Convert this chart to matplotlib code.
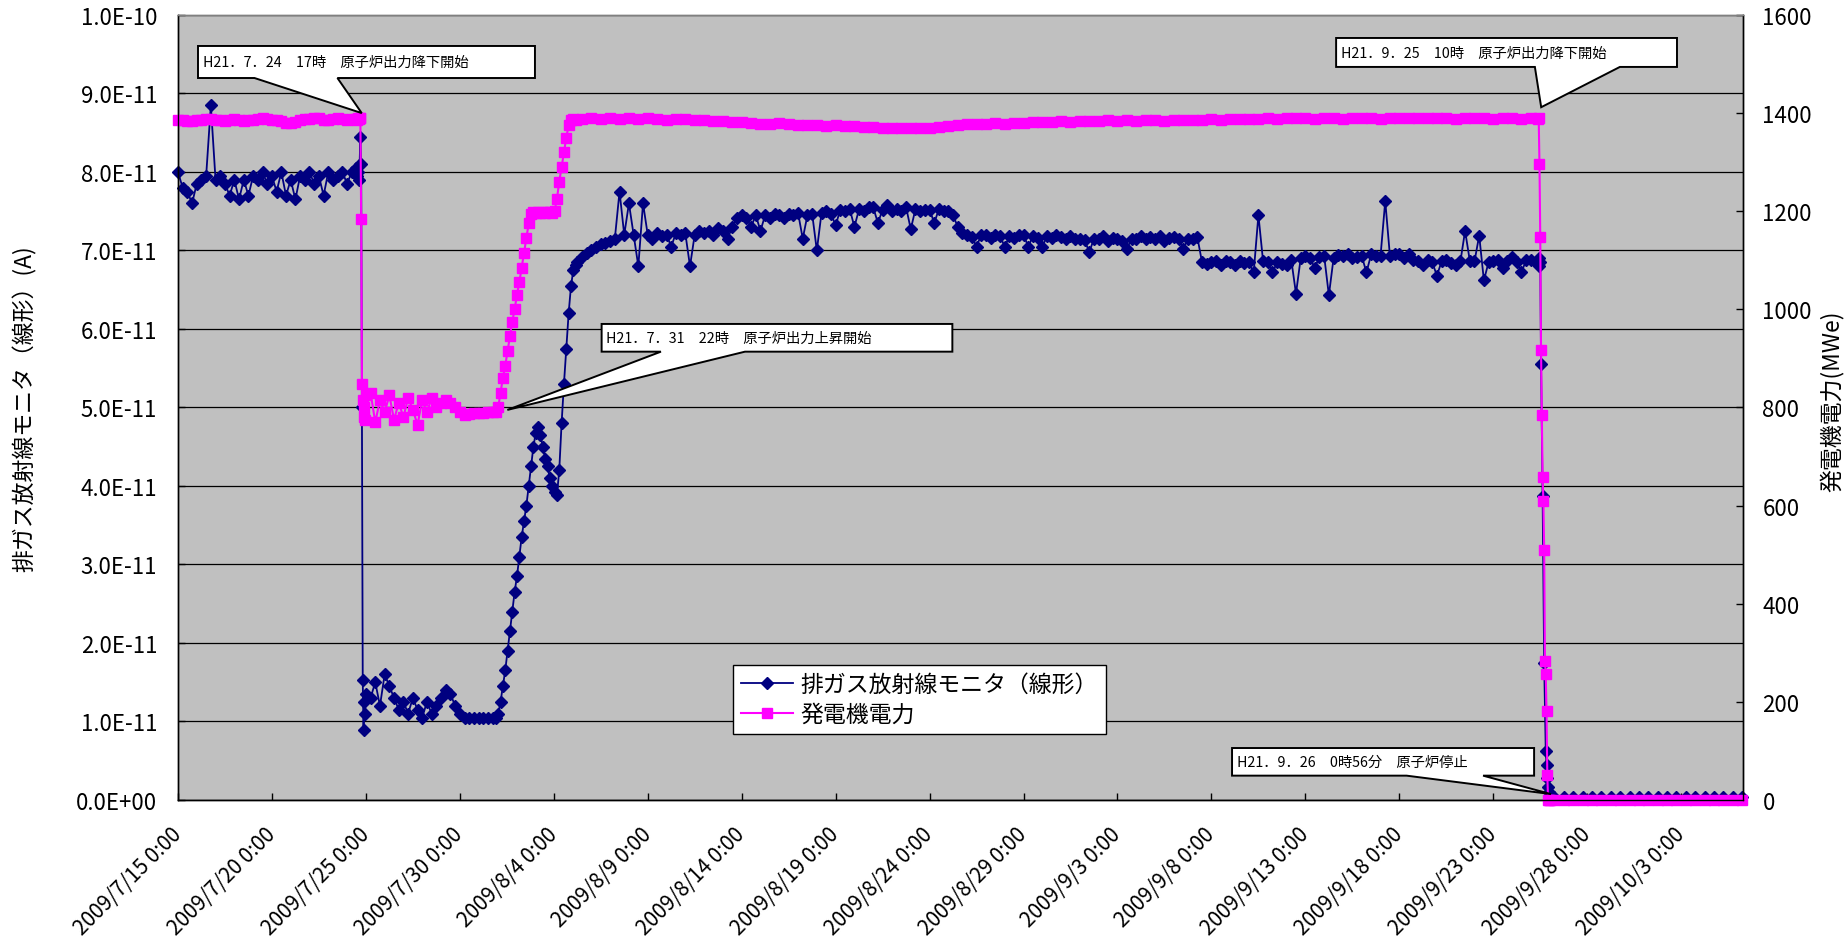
import numpy as np
import pandas as pd
import matplotlib
matplotlib.use("Agg")
import matplotlib.pyplot as plt
import matplotlib.dates as mdates
from matplotlib.patches import Polygon
from matplotlib.ticker import FuncFormatter, MultipleLocator, FixedLocator

plt.rcParams['font.family'] = ['Noto Sans CJK JP', 'DejaVu Sans']

START = pd.Timestamp('2009-07-15 00:00')

# gas = 排ガス放射線モニタ [x1e-11 A], mwe = 発電機電力 [MWe]
# full power until 7/24, every 6 h from 7/15 0:00
full1_start, full1_step = 0, 6
full1_gas = [8.0, 7.8, 7.75, 7.6, 7.85, 7.9, 7.95, 8.85, 7.9, 7.95,
             7.85, 7.7, 7.9, 7.65, 7.9, 7.7, 7.95, 7.9, 8.0, 7.85,
             7.95, 7.75, 8.0, 7.7, 7.9, 7.65, 7.95, 7.9, 8.0, 7.85,
             7.95, 7.7, 8.0, 7.9, 7.95, 8.0, 7.85, 8.0, 8.05]
full1_mwe = [1386, 1385, 1384, 1383, 1385, 1386, 1387, 1388, 1386, 1385,
             1384, 1386, 1387, 1385, 1384, 1386, 1385, 1388, 1390, 1387,
             1386, 1385, 1383, 1380, 1379, 1382, 1385, 1387, 1388, 1390,
             1389, 1386, 1385, 1387, 1389, 1388, 1386, 1387, 1388]

# power reduction 7/24 17:00, hourly
down1_hours = [229, 230, 231, 232, 233, 234, 235, 236, 237, 238, 239, 240]
down1_gas = [7.95, 8.0, 7.9, 8.1, 8.45, 8.1, 5.0, 1.53, 0.89, 1.25, 1.1, 1.35]
down1_mwe = [1386, 1389, 1387, 1390, 1390, 1185, 848, 815, 780, 800, 775, 825]

# reduced power 7/25 - 7/31, every 6 h
low_start, low_step = 246, 6
low_gas = [1.3, 1.5, 1.2, 1.6, 1.45, 1.3, 1.15, 1.25, 1.1, 1.3,
           1.15, 1.05, 1.25, 1.1, 1.2, 1.3, 1.4, 1.35, 1.2, 1.1,
           1.05, 1.05, 1.05, 1.05, 1.05, 1.05, 1.05]
low_mwe = [830, 770, 815, 790, 825, 775, 810, 780, 820, 795,
           765, 815, 790, 820, 800, 810, 815, 810, 800, 790,
           785, 787, 788, 788, 789, 790, 790]

# power ascension from 7/31 22:00, every 3 h
up_start, up_step = 406, 3
up_gas = [1.05, 1.1, 1.25, 1.45, 1.65, 1.9, 2.15, 2.4, 2.65, 2.85,
          3.1, 3.35, 3.55, 3.75, 4.0, 4.25, 4.5, 4.68, 4.75, 4.65,
          4.5, 4.35, 4.25, 4.1, 4.0, 3.92, 3.88, 4.2, 4.8, 5.3,
          5.75, 6.2, 6.55, 6.75, 6.82]
up_mwe = [790, 800, 830, 860, 885, 915, 945, 975, 1000, 1030,
          1055, 1085, 1115, 1145, 1175, 1195, 1198, 1196, 1199, 1197,
          1198, 1196, 1198, 1199, 1197, 1200, 1225, 1260, 1290, 1320,
          1350, 1375, 1385, 1388, 1386]

# full power 8/5 - 9/25: monitor every 6 h, output every 12 h
full2_gas_start, full2_gas_step = 510, 6
full2_gas = [6.85, 6.92, 6.97,
             7.0, 7.05, 7.08, 7.1, 7.12, 7.15, 7.75, 7.2,
             7.6, 7.2, 6.8, 7.6, 7.2, 7.15, 7.22, 7.18,
             7.2, 7.05, 7.22, 7.2, 7.22, 6.8, 7.2, 7.25,
             7.22, 7.25, 7.2, 7.28, 7.25, 7.15, 7.3, 7.42,
             7.45, 7.42, 7.3, 7.45, 7.25, 7.45, 7.42, 7.47,
             7.45, 7.42, 7.47, 7.45, 7.48, 7.15, 7.45, 7.47,
             7.0, 7.48, 7.5, 7.47, 7.32, 7.52, 7.5, 7.53,
             7.3, 7.53, 7.5, 7.55, 7.55, 7.35, 7.52, 7.58,
             7.5, 7.53, 7.5, 7.55, 7.27, 7.53, 7.5, 7.52,
             7.52, 7.35, 7.53, 7.5, 7.5, 7.45, 7.3, 7.22,
             7.2, 7.17, 7.05, 7.2, 7.2, 7.16, 7.2, 7.18,
             7.05, 7.18, 7.16, 7.2, 7.2, 7.05, 7.18, 7.16,
             7.05, 7.18, 7.16, 7.2, 7.17, 7.15, 7.18, 7.14,
             7.15, 7.13, 6.98, 7.15, 7.15, 7.18, 7.12, 7.16,
             7.15, 7.12, 7.02, 7.15, 7.15, 7.18, 7.15, 7.17,
             7.15, 7.18, 7.12, 7.16, 7.17, 7.15, 7.02, 7.15,
             7.15, 7.17, 6.85, 6.83, 6.85, 6.87, 6.82, 6.86,
             6.85, 6.82, 6.87, 6.84, 6.85, 6.72, 7.45, 6.86,
             6.85, 6.72, 6.85, 6.83, 6.82, 6.88, 6.45, 6.9,
             6.93, 6.9, 6.78, 6.92, 6.93, 6.43, 6.9, 6.94,
             6.93, 6.95, 6.9, 6.92, 6.93, 6.72, 6.95, 6.93,
             6.93, 7.63, 6.93, 6.95, 6.95, 6.9, 6.95, 6.88,
             6.87, 6.82, 6.88, 6.85, 6.68, 6.86, 6.88, 6.84,
             6.82, 6.86, 7.25, 6.87, 6.86, 7.19, 6.62, 6.85,
             6.86, 6.88, 6.78, 6.87, 6.92, 6.85, 6.72, 6.88,
             6.88, 6.85]
full2_mwe_start, full2_mwe_step = 516, 12
full2_mwe = [1388, 1390, 1387, 1389, 1388, 1390, 1387, 1389, 1388, 1386,
             1388, 1387, 1385, 1386, 1384, 1383, 1382, 1382, 1380, 1378,
             1377, 1379, 1378, 1376, 1375, 1376, 1374, 1375, 1374, 1373,
             1372, 1371, 1370, 1370, 1369, 1369, 1370, 1370, 1372, 1374,
             1376, 1377, 1378, 1377, 1379, 1378, 1380, 1380, 1381, 1382,
             1381, 1383, 1382, 1384, 1383, 1384, 1385, 1384, 1385, 1384,
             1386, 1385, 1384, 1385, 1386, 1385, 1386, 1387, 1386, 1387,
             1388, 1387, 1388, 1389, 1388, 1389, 1390, 1389, 1388, 1390,
             1389, 1388, 1390, 1389, 1390, 1388, 1389, 1390, 1389, 1391,
             1390, 1389, 1390, 1388, 1389, 1390, 1389, 1388, 1390, 1389,
             1388, 1390]

# shutdown 9/25 10:00 - 9/26 0:56, hourly
down2_gas_hours = [1737, 1738, 1739, 1740, 1741, 1743, 1745, 1747, 1748,
                   1749, 1750, 1751, 1752]
down2_gas = [6.85, 6.9, 6.8, 6.85, 5.56, 3.87, 1.74, 0.63, 0.45,
             0.28, 0.16, 0.1, 0.06]
down2_mwe_hours = [1737, 1738, 1739, 1740, 1741, 1742, 1743, 1744, 1745,
                   1746, 1747, 1748, 1749, 1750, 1751, 1752]
down2_mwe = [1388, 1390, 1297, 1148, 918, 784, 658, 609, 510,
             284, 257, 181, 51, 0, 0, 0]

# after shutdown, every 12 h
off_start, off_step = 1758, 12
off_gas = [0.04, 0.04, 0.04, 0.04, 0.04, 0.04, 0.04, 0.04, 0.04, 0.04,
           0.04, 0.04, 0.04, 0.04, 0.04, 0.04, 0.04, 0.04, 0.04, 0.04, 0.04]
off_mwe = [0, 0, 0, 0, 0, 0, 0, 0, 0, 0,
           0, 0, 0, 0, 0, 0, 0, 0, 0, 0, 0]

end_hour = 1999
tick_dates = pd.date_range('2009-07-15', '2009-10-03', freq='5D')

gas_label = '排ガス放射線モニタ（線形）'
mwe_label = '発電機電力'

# callouts: text, box (axes frac l, b, r, t), wedge base x, tip (days, MWe)
callouts = [
    ('H21．7．24　17時　原子炉出力降下開始',
     (0.0128, 0.9197, 0.2281, 0.9605), (0.0489, 0.1019), (9.78, 1400)),
    ('H21．7．31　22時　原子炉出力上昇開始',
     (0.2707, 0.5711, 0.4948, 0.6064), (0.3086, 0.3623), (17.53, 795)),
    ('H21．9．25　10時　原子炉出力降下開始',
     (0.7400, 0.9338, 0.9578, 0.9707), (0.8670, 0.9213), (72.55, 1412)),
    ('H21．9．26　0時56分　原子炉停止',
     (0.6735, 0.0310, 0.8665, 0.0662), (0.7850, 0.8339), (73.07, 12)),
]


def on_grid(start, step, n):
    return START + pd.to_timedelta(start + step * np.arange(n), unit='h')


def at_hours(hours):
    return START + pd.to_timedelta(np.asarray(hours, dtype=float), unit='h')


gas_t = np.concatenate([
    on_grid(full1_start, full1_step, len(full1_gas)),
    at_hours(down1_hours),
    on_grid(low_start, low_step, len(low_gas)),
    on_grid(up_start, up_step, len(up_gas)),
    on_grid(full2_gas_start, full2_gas_step, len(full2_gas)),
    at_hours(down2_gas_hours),
    on_grid(off_start, off_step, len(off_gas)),
])
gas = np.concatenate([full1_gas, down1_gas, low_gas, up_gas, full2_gas,
                      down2_gas, off_gas]) * 1e-11

mwe_t = np.concatenate([
    on_grid(full1_start, full1_step, len(full1_mwe)),
    at_hours(down1_hours),
    on_grid(low_start, low_step, len(low_mwe)),
    on_grid(up_start, up_step, len(up_mwe)),
    on_grid(full2_mwe_start, full2_mwe_step, len(full2_mwe)),
    at_hours(down2_mwe_hours),
    on_grid(off_start, off_step, len(off_mwe)),
])
mwe = np.concatenate([full1_mwe, down1_mwe, low_mwe, up_mwe, full2_mwe,
                      down2_mwe, off_mwe])

NAVY = '#000080'
MAGENTA = '#FF00FF'

fig = plt.figure(figsize=(18.48, 9.45), dpi=100)
ax = fig.add_axes([0.0963, 0.1524, 0.8469, 0.8307])
ax.set_facecolor('#C0C0C0')

l1, = ax.plot(pd.to_datetime(gas_t), gas, color=NAVY, lw=1.3, marker='D', ms=6.5,
              mfc=NAVY, mec=NAVY, clip_on=False)

ax2 = ax.twinx()
l2, = ax2.plot(pd.to_datetime(mwe_t), mwe, color=MAGENTA, lw=1.5, marker='s', ms=7.5,
               mfc=MAGENTA, mec=MAGENTA, clip_on=False)

ax.set_xlim(START, START + pd.Timedelta(hours=end_hour))
ax.set_ylim(0, 1e-10)
ax2.set_ylim(0, 1600)

ax.yaxis.set_major_locator(MultipleLocator(1e-11))
ax.yaxis.set_major_formatter(FuncFormatter(lambda v, _: f'{v:.1E}'))
ax2.yaxis.set_major_locator(MultipleLocator(200))

ax.xaxis.set_major_locator(FixedLocator(mdates.date2num(tick_dates.to_pydatetime())))


def fmt_date(v, _):
    d = mdates.num2date(v)
    return f'{d.year}/{d.month}/{d.day} {d.hour}:{d.minute:02d}'


ax.xaxis.set_major_formatter(FuncFormatter(fmt_date))

ax.grid(axis='y', color='black', lw=0.9)
ax.grid(axis='x', visible=False)
ax.set_axisbelow(True)

ax.tick_params(axis='y', direction='in', length=5, width=1, labelsize=16, pad=15)
ax2.tick_params(axis='y', direction='in', length=5, width=1, labelsize=16, pad=14)
ax.tick_params(axis='x', direction='in', length=5, width=1, labelsize=15, pad=22,
               labelrotation=45)
for lbl in ax.get_xticklabels():
    lbl.set_ha('right')
    lbl.set_va('center')
    lbl.set_rotation_mode('anchor')

for a in (ax, ax2):
    for s in a.spines.values():
        s.set_color('black')
        s.set_linewidth(1)
    a.spines['top'].set_color('#808080')

ax.set_ylabel('排ガス放射線モニタ（線形）(A)', fontsize=16.5, va='center')
ax.yaxis.set_label_coords(-0.0978, 0.5)
ax2.set_ylabel('発電機電力(MWe)', fontsize=16.5, va='center', rotation=90)
ax2.yaxis.set_label_coords(1.0575, 0.5096)

leg = ax2.legend([l1, l2], [gas_label, mwe_label], loc='upper left',
                 bbox_to_anchor=(0.3548, 0.1724), borderaxespad=0, fancybox=False,
                 framealpha=1, edgecolor='black', fontsize=16.5, handlelength=2.25,
                 handletextpad=0.33, borderpad=0.35, labelspacing=0.3)
leg.get_frame().set_linewidth(1)
leg.set_zorder(20)

# callout boxes with a wedge pointing at the data
to_axes = ax2.transData + ax2.transAxes.inverted()
for text, (x0, y0, x1, y1), (b0, b1), (tday, tval) in callouts:
    tx = mdates.date2num((START + pd.Timedelta(days=tday)).to_pydatetime())
    fx, fy = to_axes.transform((tx, tval))
    verts = [(x0, y1), (x1, y1), (x1, y0), (b1, y0), (fx, fy), (b0, y0), (x0, y0)]
    ax2.add_patch(Polygon(verts, closed=True, fc='white', ec='black', lw=1.4,
                          transform=ax2.transAxes, zorder=30, clip_on=False))
    ax2.text(x0 + 0.003, (y0 + y1) / 2, text, transform=ax2.transAxes,
             fontsize=10.3, ha='left', va='center', zorder=31)

fig.savefig('out.png', dpi=100, facecolor='white')
